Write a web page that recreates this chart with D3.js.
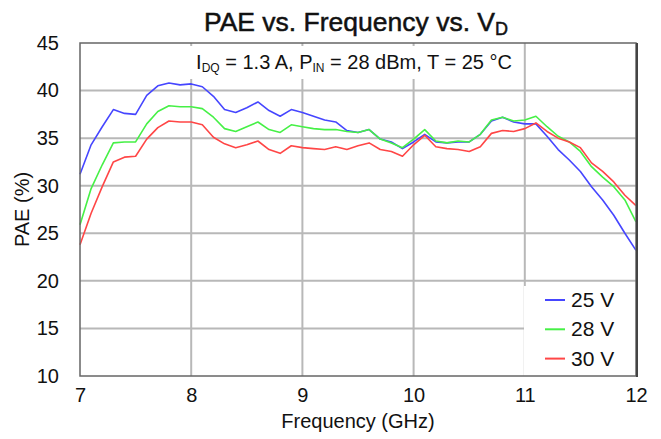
<!DOCTYPE html>
<html>
<head>
<meta charset="utf-8">
<script src="https://cdn.jsdelivr.net/npm/d3@7"></script>
<style>
  body { margin: 0; background: #fff; }
  text { font-family: "Liberation Sans", Arial, sans-serif; fill: #111; }
</style>
</head>
<body>
<svg id="chart" width="661" height="439"></svg>
<script>
const freq = d3.range(51).map(i => +(7 + i * 0.1).toFixed(1));

const pae25 = [31.2, 34.3, 36.2, 38.0, 37.6, 37.5, 39.5, 40.5, 40.8, 40.6,
  40.7, 40.4, 39.4, 38.0, 37.7, 38.2, 38.8, 37.9, 37.3, 38.0,
  37.7, 37.3, 36.9, 36.7, 35.8, 35.6, 35.9, 34.9, 34.6, 33.9,
  34.6, 35.4, 34.6, 34.5, 34.6, 34.6, 35.4, 36.8, 37.2, 36.7,
  36.5, 36.5, 35.2, 33.8, 32.7, 31.5, 29.9, 28.5, 26.9, 25.0, 23.2];

const pae28 = [25.9, 29.7, 32.2, 34.5, 34.6, 34.6, 36.5, 37.8, 38.4, 38.3,
  38.3, 38.1, 37.2, 36.0, 35.7, 36.2, 36.7, 35.9, 35.6, 36.4,
  36.2, 36.0, 35.9, 35.9, 35.7, 35.6, 35.9, 34.9, 34.5, 34.0,
  34.9, 35.9, 34.7, 34.5, 34.7, 34.6, 35.4, 36.9, 37.2, 36.8,
  36.9, 37.3, 36.2, 35.2, 34.6, 33.6, 32.0, 30.9, 29.9, 28.5, 26.2];

const pae30 = [23.8, 27.1, 29.9, 32.5, 33.0, 33.1, 34.9, 36.1, 36.8, 36.7,
  36.7, 36.4, 35.1, 34.4, 34.0, 34.3, 34.7, 33.8, 33.4, 34.2,
  34.0, 33.9, 33.8, 34.1, 33.8, 34.2, 34.5, 33.8, 33.6, 33.1,
  34.3, 35.3, 34.1, 33.9, 33.8, 33.6, 34.1, 35.5, 35.8, 35.7,
  36.0, 36.6, 35.7, 35.0, 34.6, 34.0, 32.4, 31.5, 30.4, 29.0, 27.9];

const seriesNames = ["25 V", "28 V", "30 V"];
const seriesColors = ["#4646ff", "#46f046", "#ff4646"];
const xTicks = [7, 8, 9, 10, 11, 12];
const yTicks = [10, 15, 20, 25, 30, 35, 40, 45];

const svg = d3.select("#chart");
const margin = { top: 43, right: 25, bottom: 63, left: 80 };
const width = 661 - margin.left - margin.right;
const height = 439 - margin.top - margin.bottom;

const x = d3.scaleLinear().domain([7, 12]).range([0, width]);
const y = d3.scaleLinear().domain([10, 45]).range([height, 0]);

const g = svg.append("g").attr("transform", `translate(${margin.left},${margin.top})`);

// grid
g.append("g")
  .selectAll("line")
  .data(yTicks.slice(1, -1))
  .enter()
  .append("line")
  .attr("x1", 0)
  .attr("x2", width)
  .attr("y1", d => y(d))
  .attr("y2", d => y(d))
  .attr("stroke", "#b8b8b8")
  .attr("stroke-width", 2);

g.append("g")
  .selectAll("line")
  .data(xTicks.slice(1, -1))
  .enter()
  .append("line")
  .attr("x1", d => x(d))
  .attr("x2", d => x(d))
  .attr("y1", 0)
  .attr("y2", height)
  .attr("stroke", "#b8b8b8")
  .attr("stroke-width", 2);

// white boxes for subtitle and legend
g.append("rect")
  .attr("x", 106).attr("y", 3).attr("width", 333).attr("height", 33)
  .attr("fill", "#fff");
g.append("rect")
  .attr("x", 444).attr("y", 243).attr("width", width - 444).attr("height", height - 243)
  .attr("fill", "#fff");

// lines
const line = d3.line().x((d, i) => x(freq[i])).y(d => y(d));
[pae25, pae28, pae30].forEach((s, k) => {
  g.append("path")
    .datum(s)
    .attr("fill", "none")
    .attr("stroke", seriesColors[k])
    .attr("stroke-width", 1.6)
    .attr("stroke-linejoin", "round")
    .attr("d", line);
});

// frame
g.append("rect")
  .attr("x", 0).attr("y", 0).attr("width", width).attr("height", height)
  .attr("fill", "none").attr("stroke", "#666").attr("stroke-width", 1.5);
g.append("line")
  .attr("x1", width + 1).attr("x2", width + 1).attr("y1", 0).attr("y2", height + 1)
  .attr("stroke", "#444").attr("stroke-width", 2);

// axes
const xAxis = g.append("g")
  .attr("transform", `translate(0,${height})`)
  .call(d3.axisBottom(x).tickValues(xTicks).tickSize(0).tickPadding(12).tickFormat(d3.format("d")));
xAxis.select(".domain").remove();
xAxis.selectAll("text").style("font-size", "20px").attr("fill", "#111");

const yAxis = g.append("g")
  .call(d3.axisLeft(y).tickValues(yTicks).tickSize(0).tickPadding(21).tickFormat(d3.format("d")));
yAxis.select(".domain").remove();
yAxis.selectAll("text").style("font-size", "20px").attr("fill", "#111");

// titles
const title = svg.append("text")
  .attr("x", 356).attr("y", 31)
  .attr("text-anchor", "middle")
  .attr("stroke", "#111").attr("stroke-width", 0.5)
  .style("font-size", "26.5px");
title.append("tspan").text("PAE vs. Frequency vs. V");
title.append("tspan").attr("dy", 4).style("font-size", "18px").text("D");

const sub = svg.append("text")
  .attr("x", 354).attr("y", 69)
  .attr("text-anchor", "middle")
  .style("font-size", "20px");
sub.append("tspan").text("I");
sub.append("tspan").attr("dy", 3).style("font-size", "12px").text("DQ");
sub.append("tspan").attr("dy", -3).text(" = 1.3 A, P");
sub.append("tspan").attr("dy", 3).style("font-size", "12px").text("IN");
sub.append("tspan").attr("dy", -3).text(" = 28 dBm, T = 25 °C");

svg.append("text")
  .attr("x", margin.left + width / 2).attr("y", 428)
  .attr("text-anchor", "middle")
  .style("font-size", "20px")
  .text("Frequency (GHz)");

svg.append("text")
  .attr("transform", `translate(29,${margin.top + height / 2}) rotate(-90)`)
  .attr("text-anchor", "middle")
  .style("font-size", "20px")
  .text("PAE (%)");

// legend
const legend = g.append("g").attr("transform", "translate(465,257)");
seriesNames.forEach((name, k) => {
  const row = legend.append("g").attr("transform", `translate(0,${k * 29.3})`);
  row.append("line")
    .attr("x1", 0).attr("x2", 20).attr("y1", 0).attr("y2", 0)
    .attr("stroke", seriesColors[k]).attr("stroke-width", 2);
  row.append("text")
    .attr("x", 26).attr("y", 7)
    .style("font-size", "21px")
    .text(name);
});
</script>
</body>
</html>
